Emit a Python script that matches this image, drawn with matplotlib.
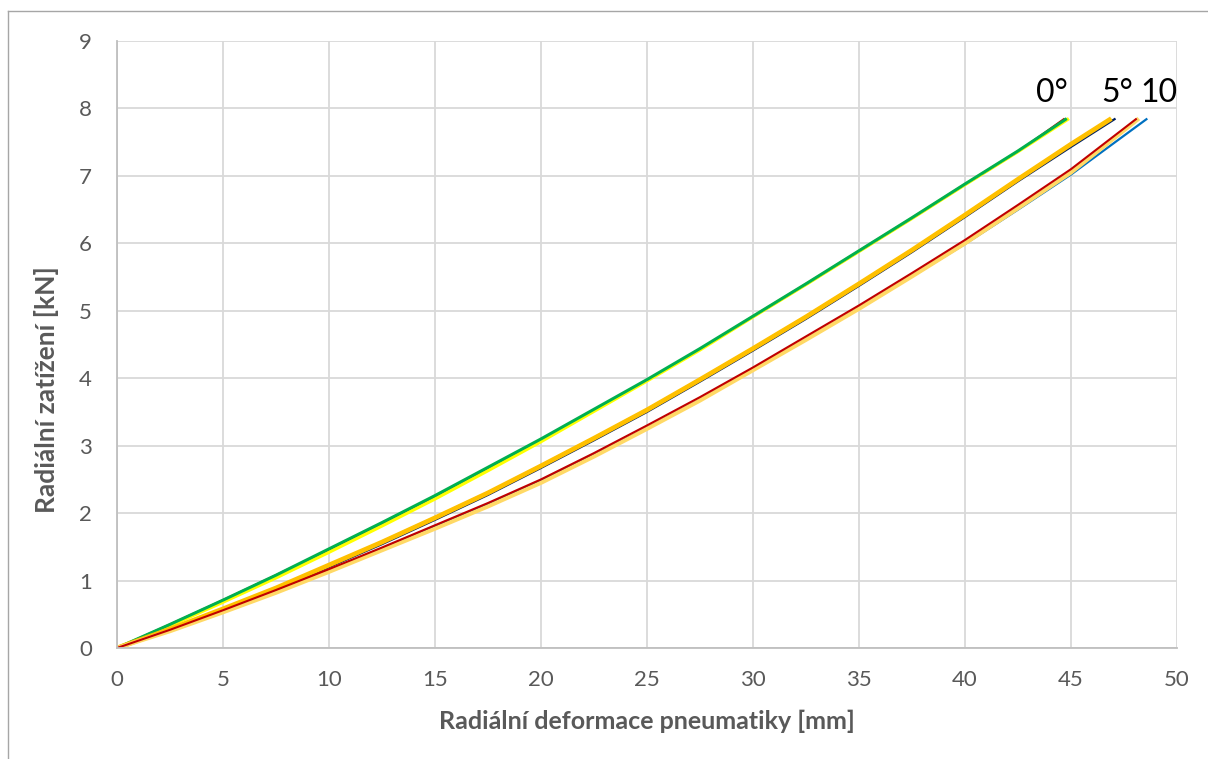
import matplotlib
matplotlib.use("Agg")
import matplotlib.pyplot as plt
from matplotlib.lines import Line2D

plt.rcParams['font.family'] = ['Lato', 'DejaVu Sans']

# ---- data (deformation [mm], load [kN]) ----
x_common = [0, 2.5, 5, 7.5, 10, 12.5, 15, 17.5, 20, 22.5, 25, 27.5, 30,
            32.5, 35, 37.5, 40, 42.5]

# 0 deg
x_0_red = x_common + [44.7]
y_0_red = [0, 0.35, 0.71, 1.08, 1.46, 1.85, 2.25, 2.67, 3.09, 3.53, 3.97, 4.43,
           4.91, 5.39, 5.88, 6.37, 6.87, 7.36, 7.85]
x_0_yel = x_common + [44.9]
y_0_yel = [0, 0.33, 0.68, 1.04, 1.42, 1.81, 2.21, 2.63, 3.06, 3.51, 3.96, 4.42,
           4.91, 5.39, 5.88, 6.37, 6.87, 7.36, 7.85]
x_0_grn = x_common + [44.8]
y_0_grn = [0, 0.35, 0.71, 1.08, 1.47, 1.86, 2.26, 2.68, 3.10, 3.54, 3.98, 4.44,
           4.92, 5.40, 5.89, 6.38, 6.88, 7.37, 7.85]

# 5 deg
x_5_nav = x_common + [45, 47.1]
y_5_nav = [0, 0.27, 0.56, 0.87, 1.20, 1.54, 1.90, 2.27, 2.67, 3.08, 3.50, 3.95,
           4.41, 4.88, 5.37, 5.87, 6.39, 6.92, 7.43, 7.85]
x_5_lim = x_common + [45, 46.9]
y_5_lim = [0, 0.28, 0.58, 0.89, 1.23, 1.58, 1.94, 2.31, 2.71, 3.12, 3.54, 3.99,
           4.45, 4.92, 5.41, 5.91, 6.43, 6.96, 7.48, 7.85]
x_5_org = x_common + [45, 46.9]
y_5_org = [0, 0.28, 0.58, 0.89, 1.23, 1.57, 1.93, 2.30, 2.70, 3.11, 3.53, 3.98,
           4.44, 4.91, 5.40, 5.90, 6.42, 6.95, 7.47, 7.85]

# 10 deg
x_10_blu = x_common + [45, 48.6]
y_10_blu = [0, 0.26, 0.54, 0.84, 1.15, 1.47, 1.80, 2.13, 2.48, 2.86, 3.26, 3.68,
            4.12, 4.57, 5.04, 5.51, 5.99, 6.50, 7.02, 7.85]
x_10_lor = x_common + [45, 48.2]
y_10_lor = [0, 0.25, 0.53, 0.82, 1.13, 1.45, 1.77, 2.10, 2.45, 2.84, 3.25, 3.67,
            4.12, 4.57, 5.03, 5.51, 6.00, 6.52, 7.05, 7.85]
x_10_red = x_common + [45, 48.1]
y_10_red = [0, 0.27, 0.56, 0.86, 1.17, 1.49, 1.82, 2.15, 2.50, 2.89, 3.30, 3.72,
            4.16, 4.62, 5.08, 5.56, 6.05, 6.57, 7.10, 7.85]

angle_labels = ["0°", "5°", "10"]
angle_label_x = [44.1, 47.2, 49.15]
angle_label_y = [8.0, 8.0, 8.0]

x_ticks = [0, 5, 10, 15, 20, 25, 30, 35, 40, 45, 50]
y_ticks = [0, 1, 2, 3, 4, 5, 6, 7, 8, 9]

fig = plt.figure(figsize=(12.08, 7.59), dpi=100)
ax = fig.add_axes([117/1208, 1 - 648/759, (1177-117)/1208, (648-41)/759])

series = [
    (x_0_red, y_0_red, '#C00000', 1.5),
    (x_0_yel, y_0_yel, '#FFFF00', 2.4),
    (x_0_grn, y_0_grn, '#00B050', 2.2),
    (x_5_nav, y_5_nav, '#002060', 1.6),
    (x_5_lim, y_5_lim, '#92D050', 1.5),
    (x_5_org, y_5_org, '#FFC000', 3.4),
    (x_10_blu, y_10_blu, '#0070C0', 1.6),
    (x_10_lor, y_10_lor, '#FFD966', 3.0),
    (x_10_red, y_10_red, '#C00000', 1.5),
]
for xs, ys, c, lw in series:
    ax.plot(xs, ys, color=c, lw=lw, solid_capstyle='butt', solid_joinstyle='round')

for t, xx, yy in zip(angle_labels, angle_label_x, angle_label_y):
    ax.text(xx, yy, t, fontsize=23, color='black', ha='center', va='bottom')

ax.set_xlim(0, 50)
ax.set_ylim(0, 9)
ax.set_xticks(x_ticks)
ax.set_yticks(y_ticks)
ax.grid(True, color='#D9D9D9', lw=1.3)
ax.set_axisbelow(True)
for s in ['top', 'right']:
    ax.spines[s].set_visible(False)
for s in ['left', 'bottom']:
    ax.spines[s].set_color('#BFBFBF')
    ax.spines[s].set_linewidth(1.3)
ax.tick_params(length=0, labelsize=16, labelcolor='#595959')
ax.tick_params(axis='y', pad=18)
ax.tick_params(axis='x', pad=16)
ax.set_xlabel('Radiální deformace pneumatiky [mm]', fontsize=18, fontweight='bold',
              color='#595959', labelpad=14)
ax.set_ylabel('Radiální zatížení [kN]', fontsize=19, fontweight='bold',
              color='#595959', va='center', ha='center')
ax.yaxis.set_label_coords((47 - 117) / 1060, (648 - 390) / 607)

# chart-area border (cropped at right and bottom)
fig.add_artist(Line2D([8/1208, 1], [1 - 11/759, 1 - 11/759], color='#A6A6A6', lw=1,
                      transform=fig.transFigure))
fig.add_artist(Line2D([8/1208, 8/1208], [0, 1 - 11/759], color='#A6A6A6', lw=1,
                      transform=fig.transFigure))

fig.savefig('out.png', dpi=100)
